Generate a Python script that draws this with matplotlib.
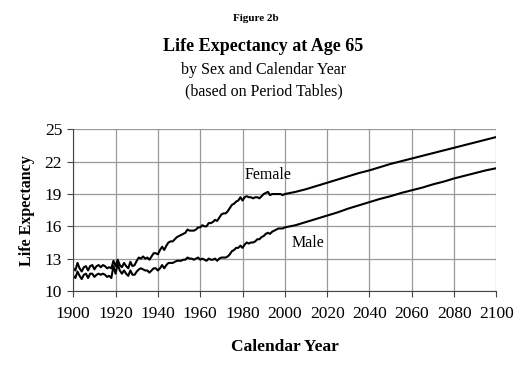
import numpy as np
import matplotlib
matplotlib.use("Agg")
import matplotlib.pyplot as plt

plt.rcParams['font.family'] = ['Liberation Serif', 'DejaVu Serif']

# historical years, one value per year
hist_years = list(range(1900, 2001))
female_hist = [12.1, 11.9, 12.6, 12.1, 11.8, 12.2, 12.3, 11.9, 12.3, 12.4,
               12.0, 12.3, 12.4, 12.2, 12.4, 12.3, 12.1, 12.2, 12.1, 12.8,
               12.3, 12.9, 12.4, 12.2, 12.6, 12.3, 12.1, 12.7, 12.3, 12.4,
               12.8, 13.1, 13.0, 13.2, 13.0, 13.1, 12.9, 13.2, 13.5, 13.5,
               13.4, 13.8, 14.1, 13.8, 14.2, 14.5, 14.6, 14.6, 14.8, 15.0,
               15.1, 15.2, 15.3, 15.4, 15.7, 15.6, 15.6, 15.6, 15.7, 15.9,
               15.9, 16.1, 16.0, 16.0, 16.3, 16.3, 16.4, 16.6, 16.5, 16.8,
               17.1, 17.2, 17.2, 17.4, 17.7, 18.0, 18.1, 18.3, 18.4, 18.7,
               18.4, 18.7, 18.8, 18.7, 18.7, 18.6, 18.7, 18.7, 18.6, 18.8,
               19.0, 19.1, 19.2, 18.9, 19.0, 19.0, 19.0, 19.0, 19.0, 18.9,
               19.0]
male_hist = [11.4, 11.2, 11.8, 11.4, 11.1, 11.5, 11.6, 11.2, 11.6, 11.6,
             11.3, 11.5, 11.6, 11.5, 11.6, 11.5, 11.3, 11.4, 11.2, 12.3,
             11.6, 12.5, 11.9, 11.6, 11.9, 11.6, 11.4, 11.9, 11.5, 11.5,
             11.8, 12.0, 12.1, 12.0, 11.9, 11.9, 11.7, 11.9, 12.1, 12.1,
             11.9, 12.1, 12.4, 12.1, 12.4, 12.6, 12.6, 12.6, 12.7, 12.8,
             12.8, 12.8, 12.9, 12.9, 13.1, 13.0, 13.0, 12.9, 13.0, 13.1,
             12.9, 13.0, 12.9, 12.8, 13.0, 12.9, 12.9, 13.0, 12.8, 13.0,
             13.1, 13.1, 13.1, 13.2, 13.4, 13.7, 13.8, 14.0, 14.0, 14.2,
             14.0, 14.3, 14.5, 14.4, 14.5, 14.5, 14.6, 14.8, 14.8, 15.0,
             15.1, 15.3, 15.4, 15.3, 15.5, 15.6, 15.7, 15.8, 15.8, 15.8,
             15.9]

# projections, every 5 years
proj_years = list(range(2005, 2101, 5))
female_proj = [19.2, 19.45, 19.75, 20.05, 20.35, 20.65, 20.95, 21.2, 21.5, 21.8,
               22.05, 22.3, 22.55, 22.8, 23.05, 23.3, 23.55, 23.8, 24.05, 24.3]
male_proj = [16.1, 16.4, 16.7, 17.0, 17.3, 17.65, 17.95, 18.25, 18.55, 18.8,
             19.1, 19.35, 19.6, 19.9, 20.15, 20.45, 20.7, 20.95, 21.2, 21.4]

years = hist_years + proj_years
female = female_hist + female_proj
male = male_hist + male_proj

fig = plt.figure(figsize=(5.27, 3.72), dpi=100)
ax = fig.add_axes([0.139, 0.218, 0.803, 0.434])

ax.plot(years, female, color='black', lw=1.5)
ax.plot(years, male, color='black', lw=1.5)

ax.set_xlim(1900, 2100)
ax.set_ylim(10, 25)
ax.set_xticks(range(1900, 2101, 20))
ax.set_yticks([10, 13, 16, 19, 22, 25])
ax.grid(True, color='#999999', lw=0.9)
ax.set_axisbelow(True)
for s in ['top', 'right']:
    ax.spines[s].set_visible(False)
for s in ['left', 'bottom']:
    ax.spines[s].set_color('#444444')
ax.tick_params(direction='out', length=4, width=0.8, color='#444444', labelsize=12.5, pad=4)
ax.tick_params(axis='x', pad=7)

ax.text(1981, 20.4, 'Female', fontsize=11.5)
ax.text(2003, 14.1, 'Male', fontsize=11.5)

ax.set_xlabel('Calendar Year', fontsize=12.5, fontweight='bold', labelpad=12)
ax.set_ylabel('Life Expectancy', fontsize=11.5, fontweight='bold', labelpad=7)

fig.text(0.485, 0.95, 'Figure 2b', ha='center', va='center', fontsize=8, fontweight='bold')
fig.text(0.5, 0.875, 'Life Expectancy at Age 65', ha='center', va='center', fontsize=13, fontweight='bold')
fig.text(0.5, 0.812, 'by Sex and Calendar Year', ha='center', va='center', fontsize=11.5)
fig.text(0.5, 0.755, '(based on Period Tables)', ha='center', va='center', fontsize=11.5)

fig.savefig('out.png', dpi=100)
